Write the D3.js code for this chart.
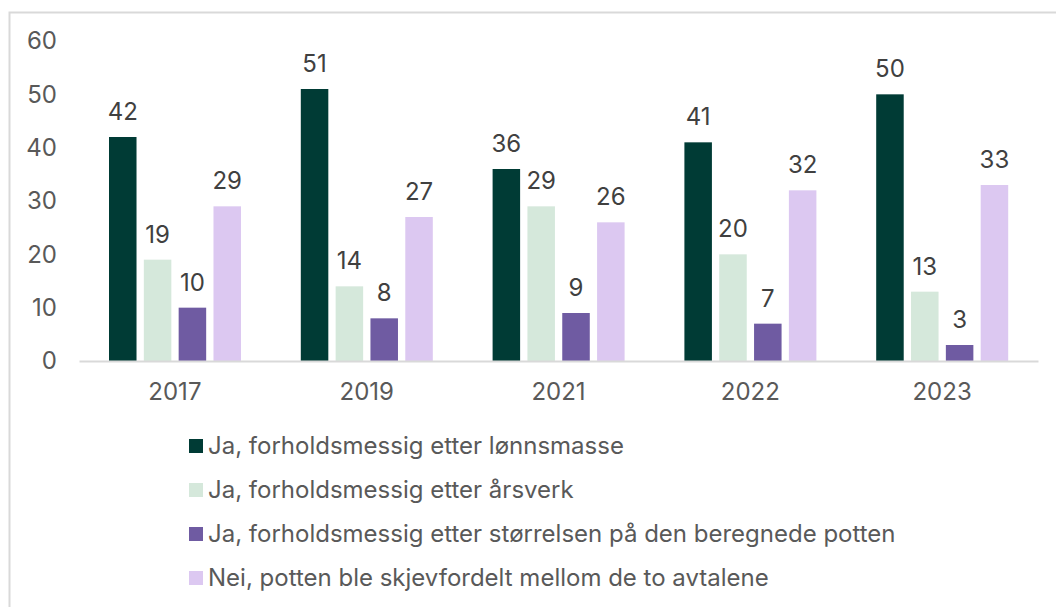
<!DOCTYPE html>
<html>
<head>
<meta charset="utf-8">
<script src="https://cdn.jsdelivr.net/npm/d3@7"></script>
<style>
  body { margin: 0; background: #fff; }
  svg text { font-family: Inter, "Noto Sans", sans-serif; }
</style>
</head>
<body>
<svg id="chart" width="1056" height="607"></svg>
<script>
// data
const years = ['2017', '2019', '2021', '2022', '2023'];
const seriesNames = [
  'Ja, forholdsmessig etter lønnsmasse',
  'Ja, forholdsmessig etter årsverk',
  'Ja, forholdsmessig etter størrelsen på den beregnede potten',
  'Nei, potten ble skjevfordelt mellom de to avtalene'
];
const lonnsmasse = [42, 51, 36, 41, 50];
const arsverk = [19, 14, 29, 20, 13];
const storrelse = [10, 8, 9, 7, 3];
const skjev = [29, 27, 26, 32, 33];
const colors = ['#003b35', '#d5e8db', '#6f5ba2', '#dcc8f1'];
const yTicks = [0, 10, 20, 30, 40, 50, 60];

const allSeries = [lonnsmasse, arsverk, storrelse, skjev];
const svg = d3.select('#chart');
const fs = 24;

// frame
svg.append('rect')
  .attr('x', 9.5).attr('y', 12.5)
  .attr('width', 1100).attr('height', 700)
  .attr('fill', 'none').attr('stroke', '#d9d9d9').attr('stroke-width', 2);

const x0 = d3.scaleBand().domain(years).range([79, 1038]);
const x1 = d3.scaleBand().domain(d3.range(4)).range([30, 162]).paddingInner(0.21);
const y = d3.scaleLinear().domain([0, 60]).range([361, 41]);

// y axis labels
const yAxis = d3.axisLeft(y).tickValues(yTicks).tickSize(0).tickPadding(0);
const gy = svg.append('g').attr('transform', 'translate(57,0)').call(yAxis);
gy.select('.domain').remove();
gy.selectAll('text').attr('font-size', fs).attr('fill', '#595959')
  .attr('font-family', 'Inter, sans-serif');

// bars
const groups = svg.selectAll('g.grp').data(years).join('g')
  .attr('class', 'grp')
  .attr('transform', d => `translate(${x0(d)},0)`);

groups.each(function (yr, i) {
  const g = d3.select(this);
  allSeries.forEach((s, k) => {
    const v = s[i];
    g.append('rect')
      .attr('x', x1(k)).attr('width', x1.bandwidth())
      .attr('y', y(v)).attr('height', y(0) - y(v))
      .attr('fill', colors[k]);
    g.append('text')
      .attr('x', x1(k) + x1.bandwidth() / 2)
      .attr('y', y(v) - 17)
      .attr('text-anchor', 'middle')
      .attr('font-size', fs).attr('fill', '#404040')
      .text(v);
  });
});

// x axis
const xAxis = d3.axisBottom(x0).tickSize(0);
const gx = svg.append('g').attr('transform', `translate(0,${y(0)})`).call(xAxis);
gx.select('.domain').attr('stroke', '#d9d9d9').attr('stroke-width', 2);
gx.selectAll('text').attr('font-size', fs).attr('fill', '#595959')
  .attr('font-family', 'Inter, sans-serif').attr('y', 31).attr('dy', '0.35em');

// legend
const leg = svg.append('g').attr('transform', 'translate(189,446)');
seriesNames.forEach((name, k) => {
  const row = leg.append('g').attr('transform', `translate(0,${k * 44})`);
  row.append('rect').attr('x', 0).attr('y', -7).attr('width', 14).attr('height', 14).attr('fill', colors[k]);
  row.append('text').attr('x', 19).attr('y', 0).attr('dy', '0.35em')
    .attr('font-size', fs).attr('fill', '#595959').text(name);
});
</script>
</body>
</html>
